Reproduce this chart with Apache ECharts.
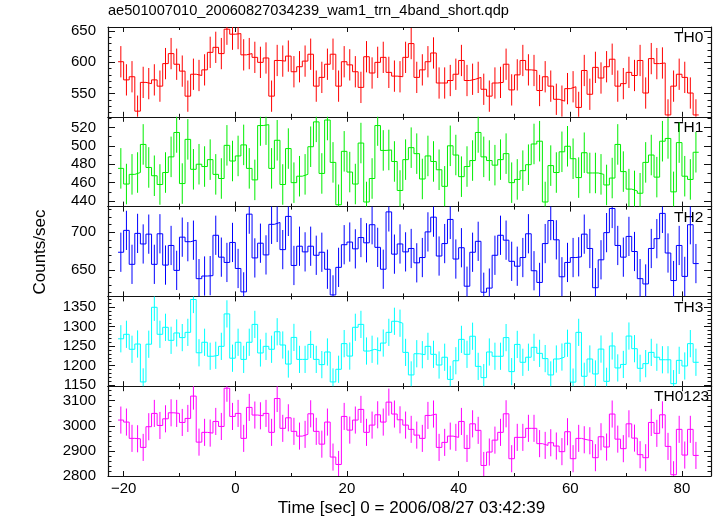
<!DOCTYPE html>
<html><head><meta charset="utf-8">
<script src="https://cdn.jsdelivr.net/npm/echarts@6/dist/echarts.min.js"></script>
<style>html,body{margin:0;padding:0;background:#fff}#c{width:717px;height:516px}</style>
</head><body><div id="c"></div>
<script>
const titleText = "ae501007010_20060827034239_wam1_trn_4band_short.qdp";
const xTitle = "Time [sec] 0 = 2006/08/27 03:42:39";
const yTitle = "Counts/sec";
const panelNames = ["TH0", "TH1", "TH2", "TH3", "TH0123"];
const panelColors = ["#ff0000", "#00ee00", "#0000ff", "#00ffff", "#ff00ff"];

// time bins (seconds)
const binStart = -21, binSize = 1;
const xRange = [-22.8, 85.2];
const xMajorTicks = [-20, 0, 20, 40, 60, 80];
const xMinorTicks = [-10, 10, 30, 50, 70];

// count rates (counts/sec), one value per 1-s bin
const th0 = [601,572,577,522,568,566,572,562,598,614,597,586,546,581,579,588,616,624,614,653,645,646,612,614,608,600,607,546,603,602,610,585,593,602,613,562,576,597,613,562,601,596,585,560,609,583,600,608,584,578,577,608,630,576,588,601,615,567,567,571,581,603,571,573,576,557,546,567,568,597,556,580,603,588,587,555,577,562,541,538,558,561,528,587,549,592,575,593,605,562,566,584,579,603,551,606,598,599,516,562,581,576,551,516];
const th1 = [475.5,458.5,469,471,501.5,476.5,467.5,458,471,488,514.5,459,507,474.5,480,477.5,485,469,464.5,500.5,483.5,489,501,475.5,463,522,523,475.5,506,458,497,460,467,469,499,526,470,528,482,436,494,471.5,458.5,503,439,464.5,522,495,495.5,483,451.5,485,498,491.5,464,489,483,474,456,500,490,466.5,477.5,484,514.5,488,484,479,485,491.5,460,463.5,473,479.5,502,505,439,478.5,471,493.5,499.5,486,465.5,492.5,470.5,470.5,469,457.5,465,501.5,472,453,451,448.5,482,490,466,505,508,450,503.5,467,463.5,493];
const th2 = [673.5,702.5,657.5,698.5,684.5,697.5,657.5,698,656.5,682.5,649.5,693.5,687.5,689.5,638.5,642,642.5,696,667,660,686.5,652,621,724,666,685.5,670,710.5,713,677,721,656,681.5,674,681.5,669.5,673.5,651,617,653.5,683.5,687,678,693,686,710,680,651,727,671,684.5,674,678.5,659.5,666.5,700.5,720,668.5,685,717,664.5,679.5,628.5,673.5,688,620.5,626,669.5,696,689.5,661.5,655,666.5,698,649,633.5,685,715.5,690,641,660,666.5,667.5,697.5,678.5,626.5,663.5,699.5,731.5,682.5,667,694.5,674.5,638.5,631.5,678.5,691.5,725,672.5,636,682.5,641.5,710,658.5];
const th3 = [1269,1280.5,1242,1255.5,1158,1255,1350,1280.5,1298.5,1265,1284,1272,1285.5,1370,1233,1260,1224,1226.5,1249.5,1333,1219,1260,1216,1260,1306,1232.5,1249.5,1242,1287,1253,1204,1272.5,1216,1216,1254.5,1216,1202.5,1235,1158,1190.5,1256.5,1224.5,1298.5,1306,1237.5,1242,1237.5,1258,1285.5,1314,1309,1234,1176,1230.5,1228,1249.5,1229,1201.5,1221.5,1164.5,1212.5,1267.5,1229,1275.5,1198,1169,1235,1224,1224,1272,1184.5,1254.5,1208.5,1221.5,1247,1231.5,1218,1176,1217,1222,1257.5,1157.5,1285.5,1172.5,1217,1178.5,1242.5,1159.5,1250.5,1194,1203,1276,1243.5,1193,1205,1234,1221.5,1215,1215,1153.5,1213.5,1199,1256.5,1208.5];
const th0123 = [3023,3015,2950,2948.5,2914,2996.5,3049.5,3001.5,3028,3052,3049.5,3013.5,3029.5,3118.5,2935,2974,2971,3017.5,2997.5,3150,3037.5,3049.5,2950,3073.5,3043,3040,3049.5,2974,3109,2990,3032,2978,2959,2966,3048,2978,2927,3015,2875.5,2846,3037.5,2983,3023,3065.5,2974,3003,3044,3015,3094.5,3047,3024,3003,2986,2963,2950,3041.5,3047,2914,2934,2959,2954,3017.5,2910,3008,2982,2842,2895.5,2943,2974,3048,2869,2954,2954,2990,2990,2929,2922,2932.5,2919.5,2897,2976.5,2869,2950,2944.5,2940.5,2873,2956.5,2915.5,3047,2947,2909,3008,2951,2885,2873,3013.5,2970,3044,2918,2805,2986,2883.5,2986,2882];
// typical 1-sigma error half-width per panel
const errHalf = [25, 22, 26, 35, 54];

// y-axis ranges and ticks per panel
const yRanges = [[513, 656.5], [434, 531.5], [615, 734], [1147, 1378], [2800, 3158]];
const yMajorTicks = [[550, 600, 650], [440, 460, 480, 500, 520], [650, 700], [1150, 1200, 1250, 1300, 1350], [2800, 2900, 3000, 3100]];
const yMinorStep = [10, 10, 10, 10, 20];

const seriesValues = [th0, th1, th2, th3, th0123];

const FONT = "'Liberation Sans', Arial, Helvetica, sans-serif";
const chart = echarts.init(document.getElementById('c'), null, {renderer: 'canvas'});

const gridLeft = 108, gridRight = 6, topY = 27, panelH = 89.8;
const labelLeft = [674, 674, 674, 674, 654];
const grids = [], xAxes = [], yAxes = [], series = [], graphics = [];

function minorVals(range, step, majors) {
  const out = [];
  const start = Math.ceil(range[0] / step) * step;
  for (let v = start; v <= range[1]; v += step) if (majors.indexOf(v) < 0) out.push(v);
  return out;
}
function fmt(v) { return v < 0 ? '\u2212' + Math.abs(v) : String(v); }
const frame = {color: '#111', width: 1.2};

for (let i = 0; i < 5; i++) {
  const top = topY + i * panelH;
  grids.push({left: gridLeft, right: gridRight, top: top, height: panelH, show: false});
  const isLast = i === 4;
  const xBase = {type: 'value', gridIndex: i, min: xRange[0], max: xRange[1], splitLine: {show: false}};
  const xStartIdx = xAxes.length;
  xAxes.push(Object.assign({}, xBase, {position: 'bottom',
    axisLine: {show: true, onZero: false, lineStyle: frame},
    axisTick: {show: true, inside: true, length: 5, customValues: xMajorTicks, lineStyle: {color: '#111'}},
    axisLabel: {show: isLast, customValues: xMajorTicks, formatter: fmt, color: '#000', fontSize: 15, fontFamily: FONT, margin: 5}}));
  xAxes.push(Object.assign({}, xBase, {position: 'bottom',
    axisLine: {show: false, onZero: false},
    axisTick: {show: true, inside: true, length: 3, customValues: xMinorTicks, lineStyle: {color: '#111'}},
    axisLabel: {show: false}}));
  xAxes.push(Object.assign({}, xBase, {position: 'top',
    axisLine: {show: true, onZero: false, lineStyle: frame},
    axisTick: {show: true, inside: true, length: 5, customValues: xMajorTicks, lineStyle: {color: '#111'}},
    axisLabel: {show: false}}));
  xAxes.push(Object.assign({}, xBase, {position: 'top',
    axisLine: {show: false, onZero: false},
    axisTick: {show: true, inside: true, length: 3, customValues: xMinorTicks, lineStyle: {color: '#111'}},
    axisLabel: {show: false}}));

  const yr = yRanges[i];
  const yMin = minorVals(yr, yMinorStep[i], yMajorTicks[i]);
  const yBase = {type: 'value', gridIndex: i, min: yr[0], max: yr[1], splitLine: {show: false}, scale: true};
  const yStartIdx = yAxes.length;
  yAxes.push(Object.assign({}, yBase, {position: 'left',
    axisLine: {show: true, onZero: false, lineStyle: frame},
    axisTick: {show: true, inside: true, length: 7, customValues: yMajorTicks[i], lineStyle: {color: '#111'}},
    axisLabel: {show: true, customValues: yMajorTicks[i], formatter: fmt, color: '#000', fontSize: 15, fontFamily: FONT, margin: 12}}));
  yAxes.push(Object.assign({}, yBase, {position: 'left',
    axisLine: {show: false, onZero: false},
    axisTick: {show: true, inside: true, length: 3.5, customValues: yMin, lineStyle: {color: '#111'}},
    axisLabel: {show: false}}));
  yAxes.push(Object.assign({}, yBase, {position: 'right',
    axisLine: {show: true, onZero: false, lineStyle: frame},
    axisTick: {show: true, inside: true, length: 7, customValues: yMajorTicks[i], lineStyle: {color: '#111'}},
    axisLabel: {show: false}}));
  yAxes.push(Object.assign({}, yBase, {position: 'right',
    axisLine: {show: false, onZero: false},
    axisTick: {show: true, inside: true, length: 3.5, customValues: yMin, lineStyle: {color: '#111'}},
    axisLabel: {show: false}}));

  const vals = seriesValues[i];
  const stepData = vals.map((v, k) => [binStart + k * binSize, v]);
  stepData.push([binStart + vals.length * binSize, vals[vals.length - 1]]);
  const errData = vals.map((v, k) => [binStart + (k + 0.5) * binSize, v - errHalf[i], v + errHalf[i]]);
  const col = panelColors[i];
  series.push({
    type: 'custom', name: panelNames[i] + ' err', xAxisIndex: xStartIdx, yAxisIndex: yStartIdx,
    clip: true, silent: true, data: errData,
    encode: {x: 0, y: [1, 2]},
    renderItem: function (params, api) {
      const x = api.value(0);
      const p1 = api.coord([x, api.value(1)]);
      const p2 = api.coord([x, api.value(2)]);
      return {type: 'line', shape: {x1: p1[0], y1: p1[1], x2: p2[0], y2: p2[1]},
        style: {stroke: col, lineWidth: 1}};
    }
  });
  series.push({
    type: 'line', name: panelNames[i], xAxisIndex: xStartIdx, yAxisIndex: yStartIdx,
    data: stepData, step: 'end', showSymbol: false, symbol: 'none', clip: true, silent: true,
    lineStyle: {color: col, width: 1}, animation: false
  });

  graphics.push({type: 'text', left: labelLeft[i], top: top + 3,
    style: {text: panelNames[i], fill: '#000', font: '15.5px ' + FONT}});
}

graphics.push({type: 'text', left: gridLeft, top: 3,
  style: {text: titleText, fill: '#000', font: '14.6px ' + FONT}});
graphics.push({type: 'text', x: 411.5, y: 508,
  style: {text: xTitle, fill: '#000', font: '17px ' + FONT, textAlign: 'center', textVerticalAlign: 'middle'}});
graphics.push({type: 'text', x: 40, y: 252, rotation: Math.PI / 2,
  style: {text: yTitle, fill: '#000', font: '17px ' + FONT, textAlign: 'center', textVerticalAlign: 'middle'}});

chart.setOption({
  animation: false,
  backgroundColor: '#fff',
  grid: grids,
  xAxis: xAxes,
  yAxis: yAxes,
  series: series,
  graphic: graphics
});
</script>
</body></html>
